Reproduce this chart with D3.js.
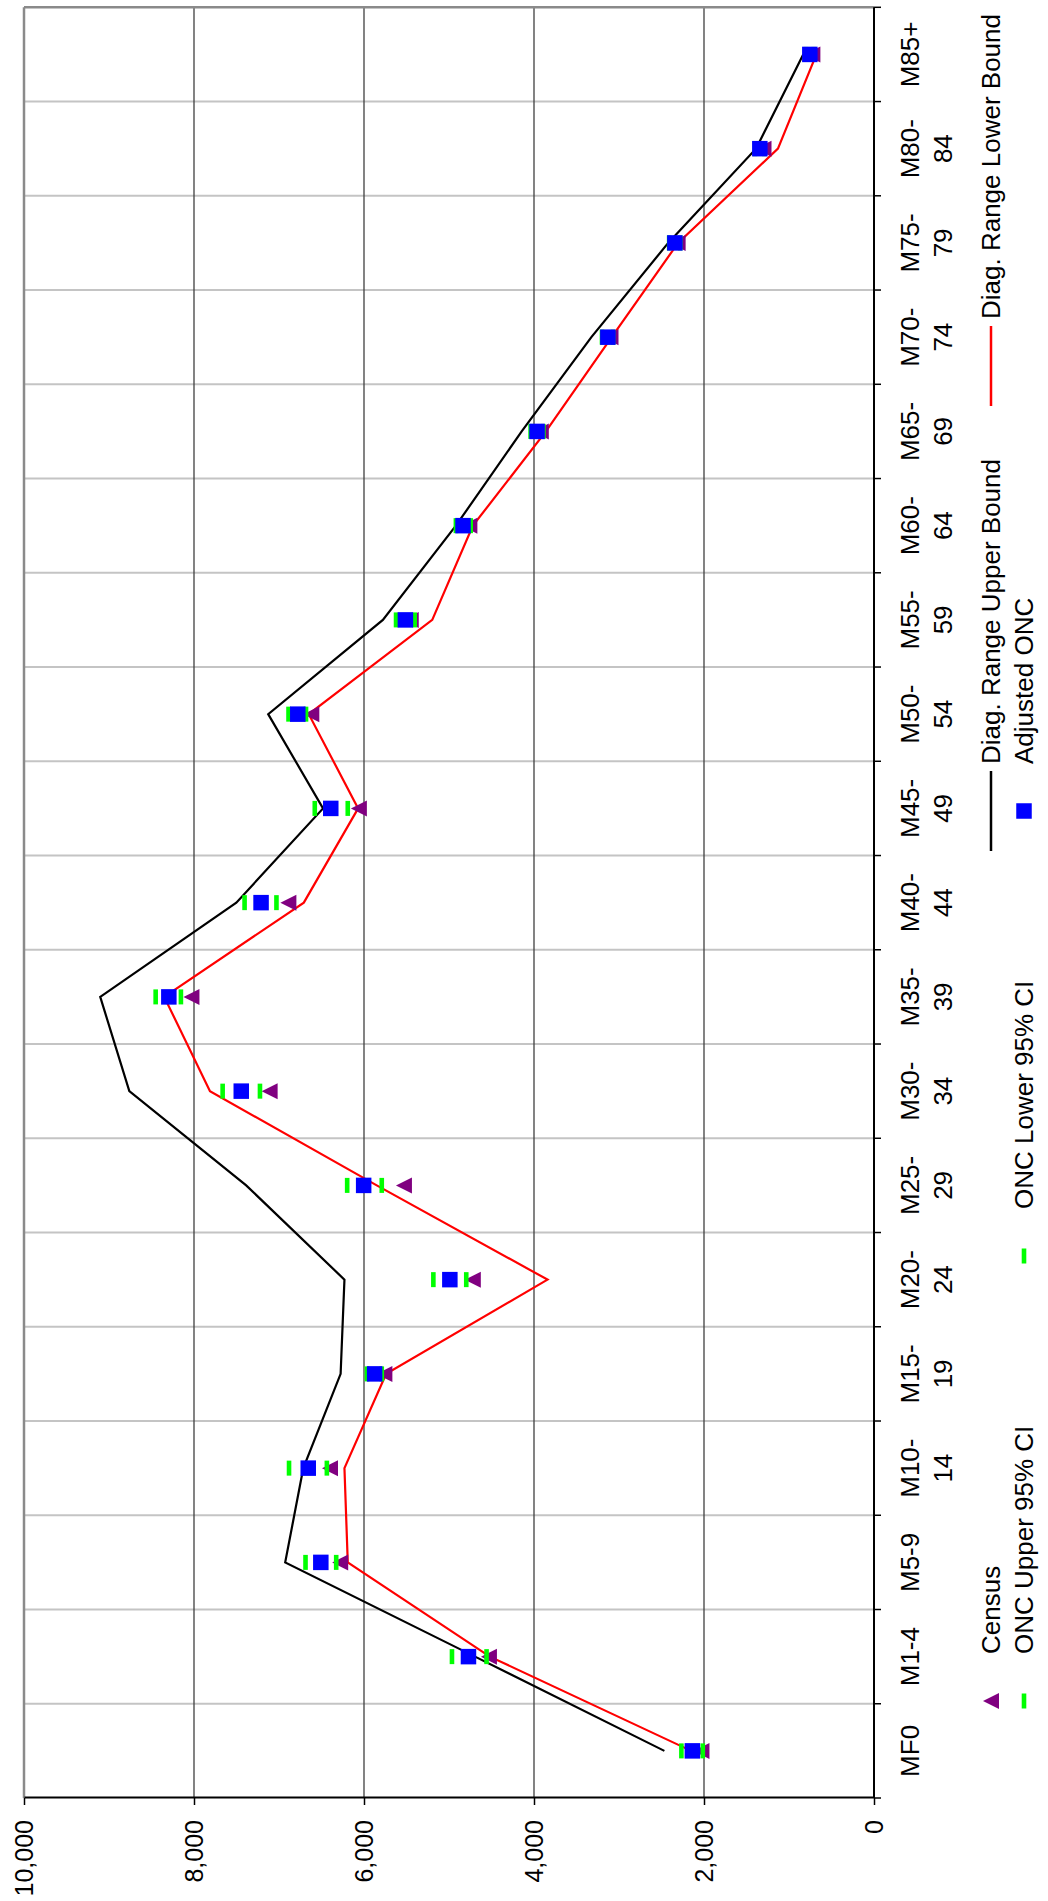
<!DOCTYPE html>
<html>
<head>
<meta charset="utf-8">
<script src="https://cdn.jsdelivr.net/npm/d3@7"></script>
<style>
  html, body { margin: 0; padding: 0; background: #fff; }
  svg { display: block; font-family: "Liberation Sans", Arial, sans-serif; }
</style>
</head>
<body>
<svg id="chart" width="1048" height="1901"></svg>
<script>
// Age groups (male population) and the series plotted against them
const categories = ["MF0", "M1-4", "M5-9", "M10-14", "M15-19", "M20-24", "M25-29", "M30-34",
  "M35-39", "M40-44", "M45-49", "M50-54", "M55-59", "M60-64", "M65-69", "M70-74",
  "M75-79", "M80-84", "M85+"];
const census      = [2030, 4530, 6280, 6400, 5760, 4720, 5530, 7110, 8030, 6890, 6060, 6620, 5450, 4760, 3920, 3100, 2310, 1300, 725];
const oncUpper    = [2266, 4965, 6688, 6882, 5965, 5184, 6198, 7663, 8451, 7405, 6579, 6888, 5623, 4919, 4040, 3200, 2410, 1400, 800];
const oncLower    = [2014, 4558, 6327, 6437, 5791, 4797, 5791, 7224, 8154, 7030, 6191, 6682, 5404, 4745, 3890, 3070, 2280, 1290, 710];
const diagUpper   = [2466, 4694, 6927, 6714, 6275, 6230, 7386, 8761, 9103, 7502, 6482, 7127, 5778, 4919, 4145, 3325, 2421, 1388, 833];
const adjustedOnc = [2137, 4771, 6508, 6656, 5875, 4990, 6004, 7444, 8296, 7211, 6391, 6779, 5513, 4835, 3964, 3131, 2343, 1343, 755];
const diagLower   = [2150, 4520, 6191, 6230, 5739, 3841, 5850, 7812, 8350, 6708, 6069, 6650, 5197, 4719, 3860, 3086, 2305, 1130, 678];
const valueTicks  = [0, 2000, 4000, 6000, 8000, 10000];

// The chart is laid out in a landscape frame, then turned a quarter turn
// counter-clockwise onto the portrait page.
const PAGE_W = 1048, PAGE_H = 1901;
const FONT = 26;

const svg = d3.select("#chart");
svg.append("rect").attr("width", PAGE_W).attr("height", PAGE_H).attr("fill", "#fff");

const g = svg.append("g").attr("transform", `translate(0,${PAGE_H}) rotate(-90)`);

const plot = { left: 103, right: 1893.7, top: 24, bottom: 874 };

const x = d3.scaleBand().domain(categories).range([plot.left, plot.right]).padding(0);
const y = d3.scaleLinear().domain([0, 10000]).range([plot.bottom, plot.top]);
const cx = c => x(c) + x.bandwidth() / 2;

// ---- gridlines ----
const boundaries = categories.slice(1).map(c => x(c));
g.append("g").selectAll("line").data(boundaries).join("line")
  .attr("x1", d => d).attr("x2", d => d)
  .attr("y1", plot.top).attr("y2", plot.bottom)
  .attr("stroke", "#c4c4c4").attr("stroke-width", 2);

g.append("g").selectAll("line").data(valueTicks.filter(v => v > 0 && v < 10000)).join("line")
  .attr("x1", plot.left).attr("x2", plot.right)
  .attr("y1", d => y(d)).attr("y2", d => y(d))
  .attr("stroke", "#404040").attr("stroke-width", 1.3);

// plot-area border (top and far end)
g.append("line").attr("x1", plot.left).attr("x2", plot.right)
  .attr("y1", plot.top).attr("y2", plot.top)
  .attr("stroke", "#8a8a8a").attr("stroke-width", 2.5);
g.append("line").attr("x1", plot.right).attr("x2", plot.right)
  .attr("y1", plot.top).attr("y2", plot.bottom)
  .attr("stroke", "#8a8a8a").attr("stroke-width", 2.5);

// ---- value axis ----
const yAxis = g.append("g").attr("transform", `translate(${plot.left},0)`)
  .call(d3.axisLeft(y).tickValues(valueTicks).tickFormat(d3.format(","))
    .tickSize(7).tickSizeOuter(0).tickPadding(15));
yAxis.select(".domain").attr("stroke", "#000").attr("stroke-width", 2);
yAxis.selectAll(".tick line").attr("stroke", "#000").attr("stroke-width", 1.5);
yAxis.selectAll(".tick text").attr("font-size", FONT - 1).attr("fill", "#000")
  .attr("font-family", "'Liberation Sans', Arial, sans-serif");

// ---- category axis ----
const xAxis = g.append("g").attr("transform", `translate(0,${plot.bottom})`)
  .call(d3.axisBottom(x).tickSize(0).tickPadding(0));
xAxis.select(".domain").remove();
xAxis.selectAll(".tick text").each(function (d) {
  const t = d3.select(this);
  t.text(null).attr("y", 0).attr("dy", null)
    .attr("font-size", FONT).attr("fill", "#000")
    .attr("font-family", "'Liberation Sans', Arial, sans-serif");
  const lines = (d.length > 4 && d.indexOf("-") > 0)
    ? [d.slice(0, d.indexOf("-") + 1), d.slice(d.indexOf("-") + 1)]
    : [d];
  lines.forEach((s, i) => {
    t.append("tspan").attr("x", 0).attr("y", 45 + i * 33).text(s);
  });
});
g.append("line").attr("x1", plot.left).attr("x2", plot.right)
  .attr("y1", plot.bottom).attr("y2", plot.bottom)
  .attr("stroke", "#000").attr("stroke-width", 2);
g.append("g").selectAll("line").data(categories.map(c => x(c)).concat([plot.right])).join("line")
  .attr("x1", d => d).attr("x2", d => d)
  .attr("y1", plot.bottom).attr("y2", plot.bottom + 7)
  .attr("stroke", "#000").attr("stroke-width", 1.5);

// ---- series ----
const rows = categories.map((c, i) => ({
  c, census: census[i], up: oncUpper[i], lo: oncLower[i],
  dU: diagUpper[i], adj: adjustedOnc[i], dL: diagLower[i]
}));

const lineOf = key => d3.line().x(d => cx(d.c)).y(d => y(d[key]));

g.append("path").datum(rows).attr("d", lineOf("dU"))
  .attr("fill", "none").attr("stroke", "#000").attr("stroke-width", 2.2).attr("stroke-linejoin", "miter");
g.append("path").datum(rows).attr("d", lineOf("dL"))
  .attr("fill", "none").attr("stroke", "#ff0000").attr("stroke-width", 2.2).attr("stroke-linejoin", "miter");

const TRI = 16, SQ = 15.5, DASH_L = 15, DASH_T = 4.6;
const triPath = (px, py) => `M${px},${py - TRI / 2}L${px + TRI / 2},${py + TRI / 2}L${px - TRI / 2},${py + TRI / 2}Z`;

g.append("g").selectAll("path").data(rows).join("path")
  .attr("d", d => triPath(cx(d.c), y(d.census))).attr("fill", "#800080");

["up", "lo"].forEach(key => {
  g.append("g").selectAll("rect").data(rows).join("rect")
    .attr("x", d => cx(d.c) - DASH_L / 2).attr("y", d => y(d[key]) - DASH_T / 2)
    .attr("width", DASH_L).attr("height", DASH_T).attr("fill", "#00ff00");
});

g.append("g").selectAll("rect").data(rows).join("rect")
  .attr("x", d => cx(d.c) - SQ / 2).attr("y", d => y(d.adj) - SQ / 2)
  .attr("width", SQ).attr("height", SQ).attr("fill", "#0000ff");

// ---- legend ----
const legendItems = [
  { name: "Census", kind: "triangle", col: 0, row: 0 },
  { name: "ONC Upper 95% CI", kind: "dash", col: 0, row: 1 },
  { name: "ONC Lower 95% CI", kind: "dash", col: 1, row: 1 },
  { name: "Diag. Range Upper Bound", kind: "line", color: "#000", col: 2, row: 0 },
  { name: "Adjusted ONC", kind: "square", col: 2, row: 1 },
  { name: "Diag. Range Lower Bound", kind: "line", color: "#ff0000", col: 3, row: 0 }
];
const legX0 = 200, legStep = 445, legY0 = 991, legRowH = 33;
const legend = g.append("g");
legendItems.forEach(it => {
  const mx = legX0 + it.col * legStep, my = legY0 + it.row * legRowH;
  if (it.kind === "triangle") {
    legend.append("path").attr("d", triPath(mx, my)).attr("fill", "#800080");
  } else if (it.kind === "dash") {
    legend.append("rect").attr("x", mx - DASH_L / 2).attr("y", my - DASH_T / 2)
      .attr("width", DASH_L).attr("height", DASH_T).attr("fill", "#00ff00");
  } else if (it.kind === "square") {
    legend.append("rect").attr("x", mx - SQ / 2).attr("y", my - SQ / 2)
      .attr("width", SQ).attr("height", SQ).attr("fill", "#0000ff");
  } else {
    legend.append("line").attr("x1", mx - 40).attr("x2", mx + 40)
      .attr("y1", my).attr("y2", my).attr("stroke", it.color).attr("stroke-width", 2.5);
  }
  legend.append("text").attr("x", mx + 47).attr("y", my).attr("dy", "0.36em")
    .attr("font-size", FONT).attr("fill", "#000").text(it.name);
});
</script>
</body>
</html>
